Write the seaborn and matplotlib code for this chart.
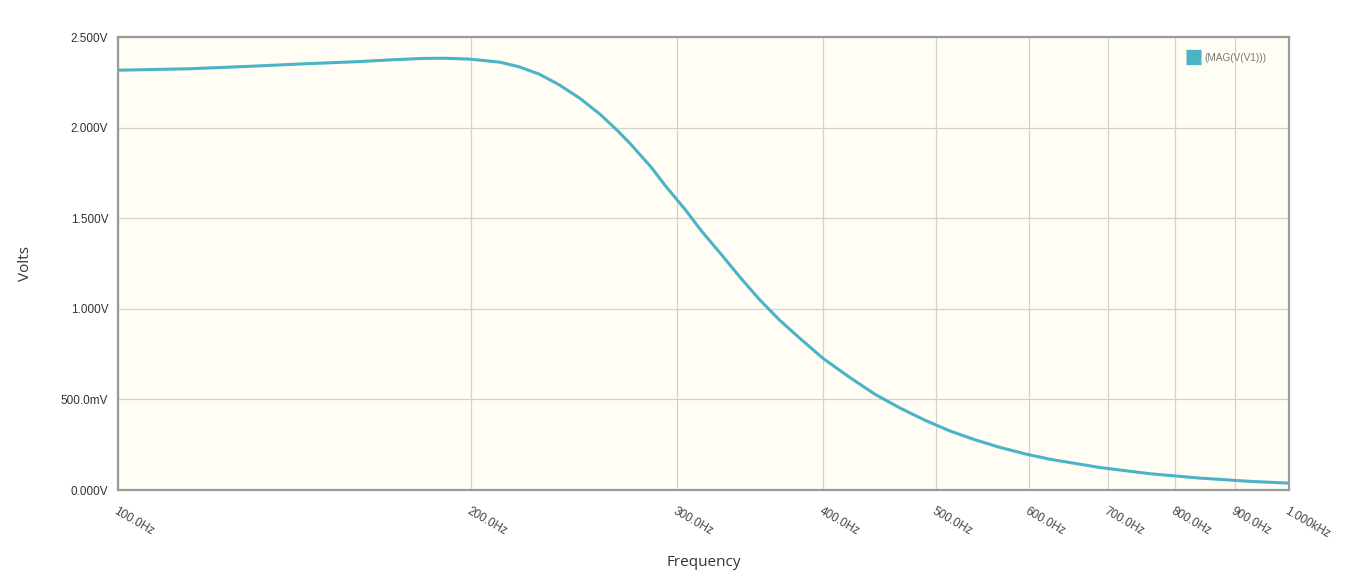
import matplotlib
matplotlib.use('Agg')
import matplotlib.pyplot as plt
import matplotlib.ticker as mticker
import seaborn as sns
import pandas as pd

# frequency sweep (Hz, V)
freq_hz = [100, 115, 130, 145, 160, 172, 182, 190, 200, 212, 220, 229, 238, 248,
           258, 267, 274, 285, 294, 305, 315, 327, 340, 353, 367, 382, 400, 422,
           443, 466, 489, 513, 539, 566, 595, 625, 690, 761, 839, 926, 1000]
volts = [2.318, 2.326, 2.340, 2.354, 2.365, 2.376, 2.383, 2.384, 2.379, 2.362,
         2.337, 2.296, 2.238, 2.163, 2.075, 1.985, 1.910, 1.786, 1.673, 1.549,
         1.430, 1.306, 1.173, 1.052, 0.940, 0.839, 0.727, 0.620, 0.529, 0.451,
         0.385, 0.327, 0.278, 0.236, 0.200, 0.170, 0.124, 0.090, 0.066, 0.048,
         0.038]

x_ticks = [100, 200, 300, 400, 500, 600, 700, 800, 900, 1000]
x_labels = ['100.0Hz', '200.0Hz', '300.0Hz', '400.0Hz', '500.0Hz', '600.0Hz',
            '700.0Hz', '800.0Hz', '900.0Hz', '1.000kHz']
y_ticks = [0, 0.5, 1.0, 1.5, 2.0, 2.5]
y_labels = ['0.000V', '500.0mV', '1.000V', '1.500V', '2.000V', '2.500V']
series_name = '(MAG(V(V1)))'

df = pd.DataFrame({'freq': freq_hz, 'volts': volts})

sns.set_style('white')
plt.rcParams['font.family'] = ['Liberation Sans', 'DejaVu Sans']

line_color = '#4BB3C6'
fig = plt.figure(figsize=(13.49, 5.82), dpi=100)
ax = fig.add_axes([0.0875, 0.158, 0.868, 0.778])
ax.set_facecolor('#FFFDF4')

sns.lineplot(data=df, x='freq', y='volts', ax=ax, color=line_color,
             linewidth=2.2, label=series_name, sort=True)
ax.lines[0].set_solid_joinstyle('round')

ax.set_xscale('log')
ax.set_xlim(100, 1000)
ax.set_ylim(0, 2.5)
ax.xaxis.set_major_locator(mticker.FixedLocator(x_ticks))
ax.xaxis.set_minor_locator(mticker.NullLocator())
ax.set_xticks(x_ticks)
ax.set_xticklabels(x_labels, rotation=-30, ha='left', va='top',
                   rotation_mode='anchor', fontsize=8.5, color='#444444')
ax.set_yticks(y_ticks)
ax.set_yticklabels(y_labels, fontsize=8.5, color='#333333')

ax.grid(True, color='#D2D2D2', linewidth=0.9)
ax.tick_params(axis='both', length=5, width=1, color='#999999', direction='out')
ax.tick_params(axis='x', pad=6)
ax.tick_params(axis='y', pad=2)

for side in ['left', 'bottom', 'top', 'right']:
    ax.spines[side].set_visible(True)
    ax.spines[side].set_color('#9A9A9A')
    ax.spines[side].set_linewidth(1.6)

ax.set_xlabel('Frequency', fontsize=11, color='#333333', labelpad=10,
              family=['Open Sans', 'DejaVu Sans'])
ax.set_ylabel('Volts', fontsize=11, color='#333333', labelpad=20,
              family=['Open Sans', 'DejaVu Sans'])

# legend: square swatch + small grey label in the top-right corner
leg = ax.legend(loc='upper right', bbox_to_anchor=(0.988, 0.985), frameon=False,
                fontsize=7.2, handlelength=1.5, handleheight=1.0,
                handletextpad=0.3, labelcolor='#777777')
for h in leg.legend_handles:
    h.set_linewidth(11)
    h.set_solid_capstyle('butt')

fig.savefig('out.png', dpi=100)
